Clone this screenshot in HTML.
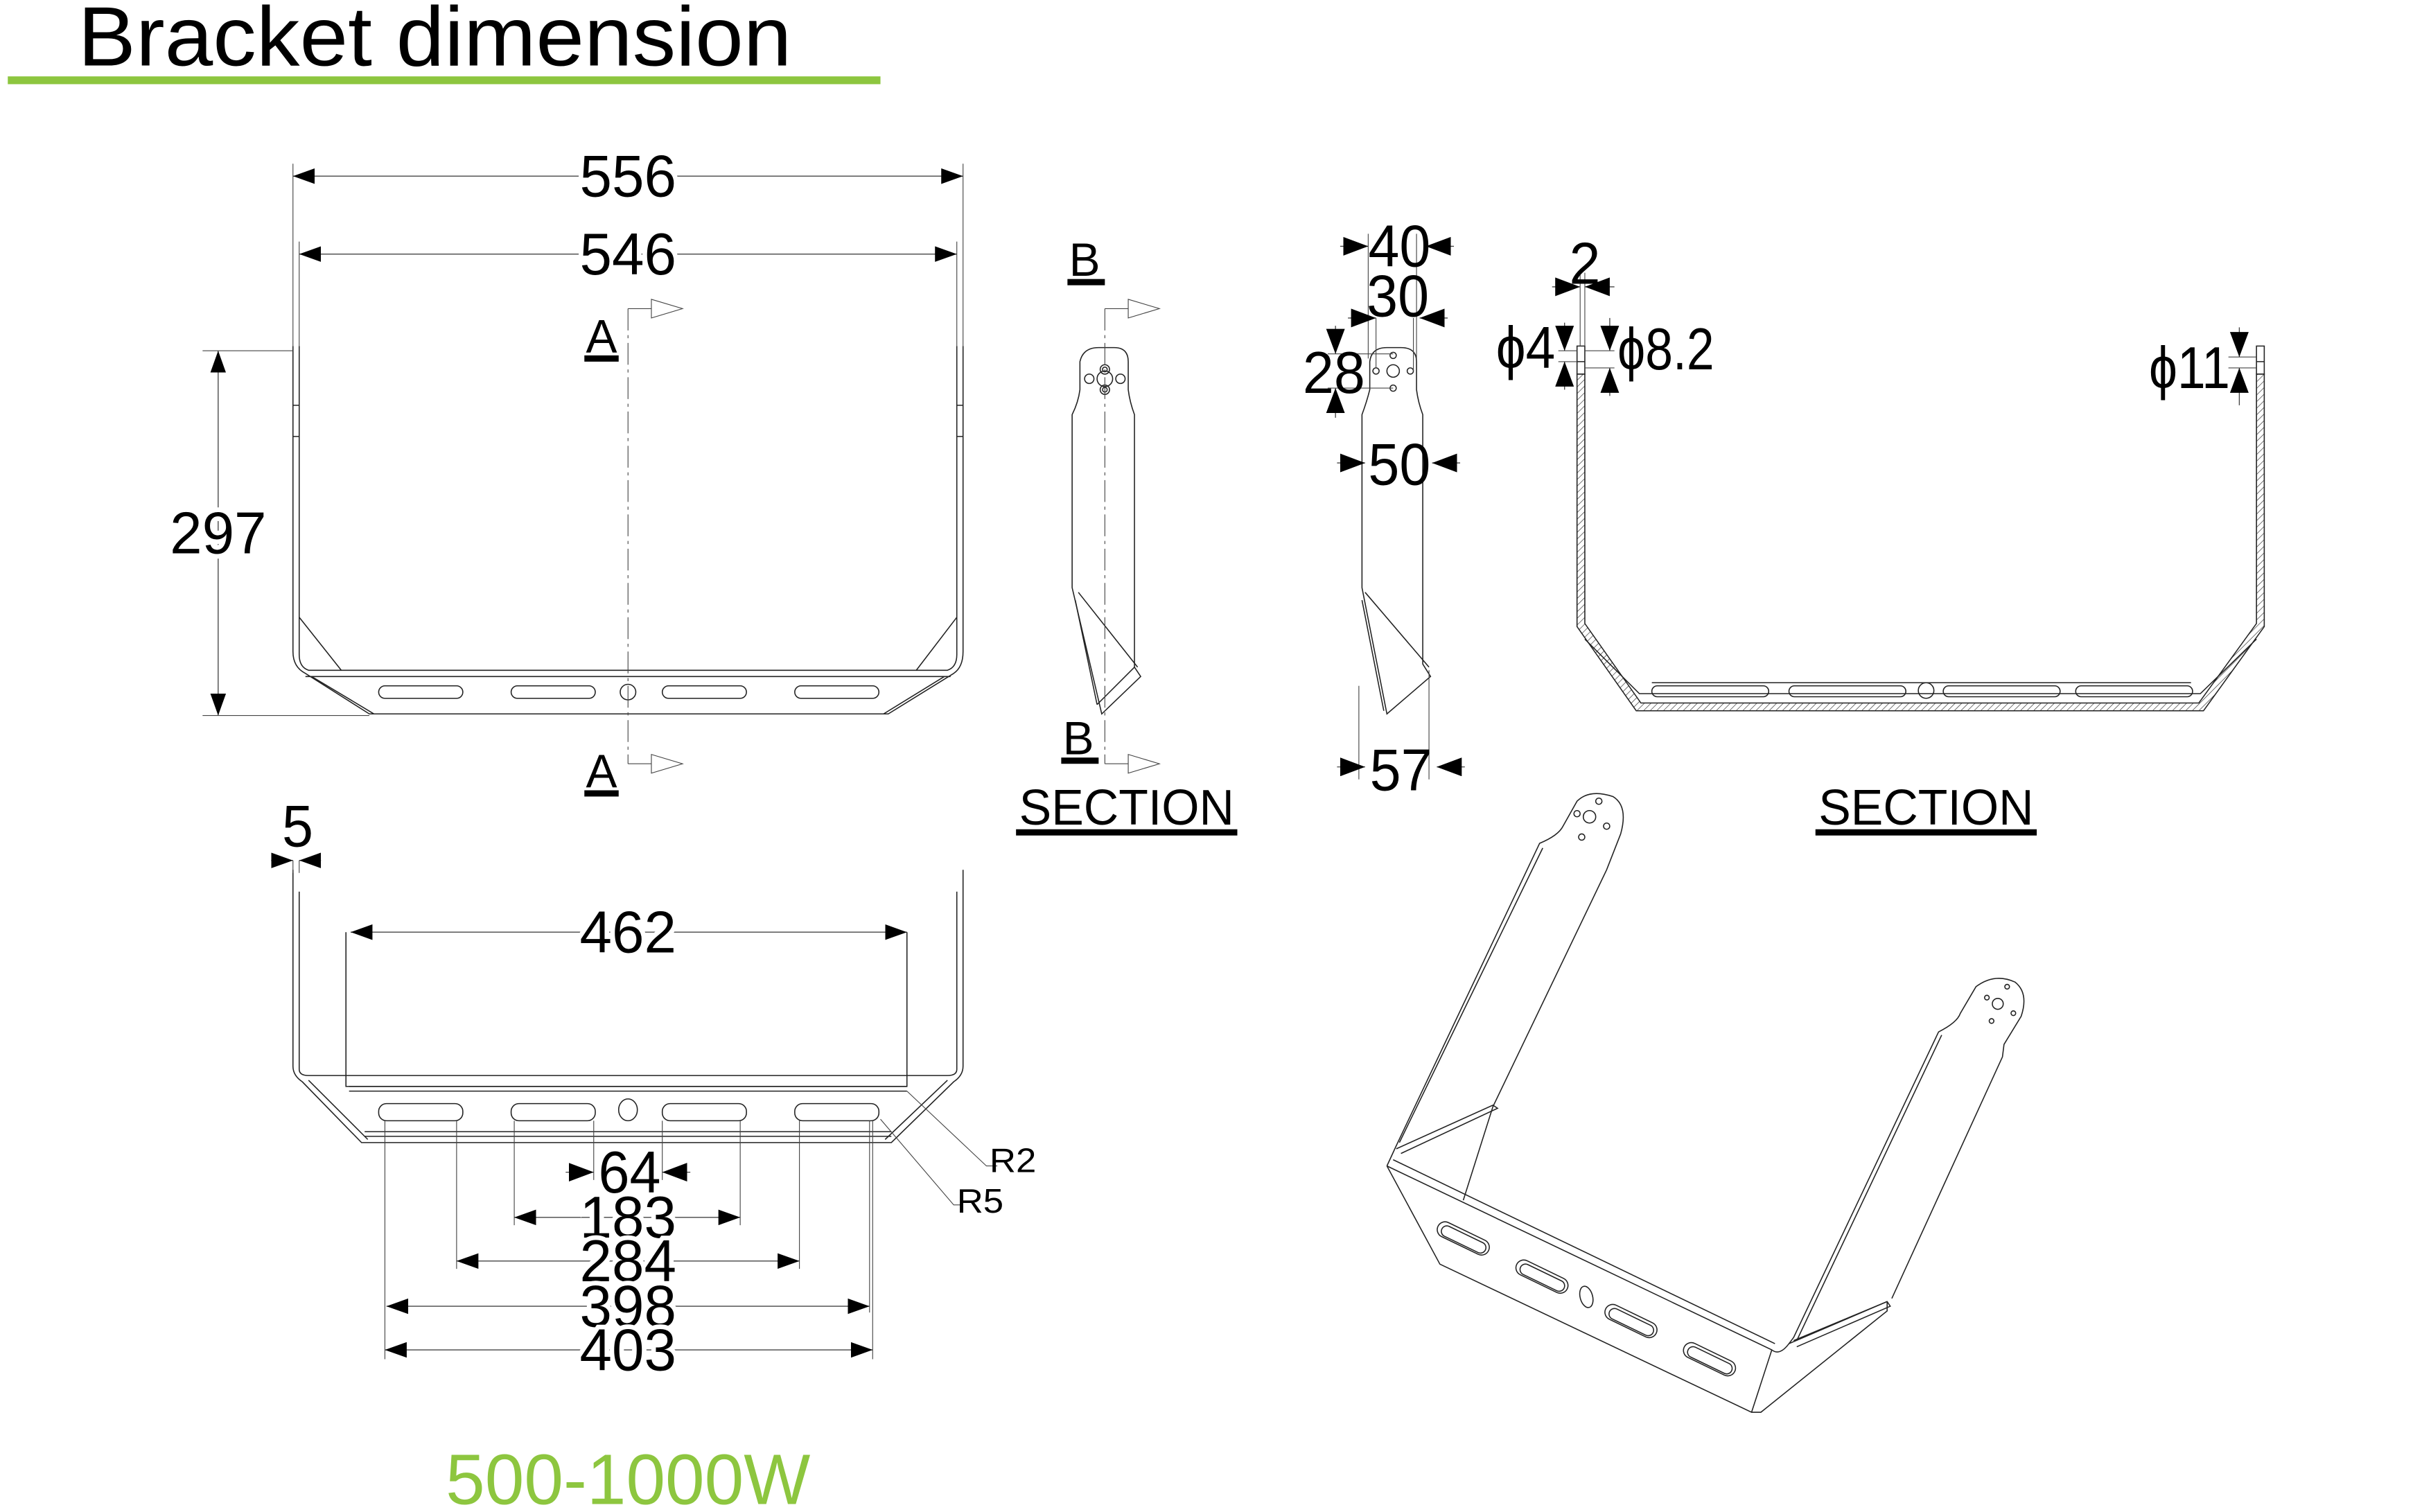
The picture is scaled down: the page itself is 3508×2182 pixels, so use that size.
<!DOCTYPE html>
<html><head><meta charset="utf-8"><style>
html,body{margin:0;padding:0;background:#fff;width:3508px;height:2182px;overflow:hidden}
svg{display:block}
.l{fill:none;stroke:#222;stroke-width:0.7}
.e{fill:none;stroke:#444;stroke-width:0.5}
.d{fill:none;stroke:#444;stroke-width:0.6}
.n{font-family:"Liberation Sans",sans-serif;font-size:38px;fill:#000;stroke:#fff;stroke-width:6px;paint-order:stroke;text-anchor:middle}
.m{font-family:"Liberation Sans",sans-serif;font-size:38px;fill:#000;text-anchor:middle}
.c{font-family:"Liberation Sans",sans-serif;fill:#000;font-weight:normal}
</style></head><body>
<svg width="3508" height="2182" viewBox="0 0 1560 970" preserveAspectRatio="none" xmlns="http://www.w3.org/2000/svg">
<defs>
<marker id="a" viewBox="-14 -5 14 10" refX="0" refY="0" markerWidth="14" markerHeight="10" markerUnits="userSpaceOnUse" orient="auto-start-reverse"><path d="M-14,-5 L0,0 L-14,5z" fill="#000"/></marker>
<marker id="b" viewBox="-16 -6 16 12" refX="0" refY="0" markerWidth="16" markerHeight="12" markerUnits="userSpaceOnUse" orient="auto-start-reverse"><path d="M-16,-6 L0,0 L-16,6z" fill="#000"/></marker>
<pattern id="h" width="3" height="3" patternUnits="userSpaceOnUse" patternTransform="rotate(45)"><line x1="0" y1="0" x2="0" y2="3" stroke="#333" stroke-width="0.6"/></pattern>
</defs>
<rect width="1560" height="970" fill="#fff"/>
<text x="50" y="42" class="c" font-size="54" textLength="458" lengthAdjust="spacingAndGlyphs">Bracket dimension</text>
<rect x="5" y="49" width="560" height="5" fill="#8dc63f"/>

<!-- FRONT VIEW -->
<g>
<path class="l" d="M188,222 V418 Q188,428 196,432 L237,458 L570,458 L612,432 Q618,428 618,418 V222"/>
<path class="l" d="M192,222 V420 Q192,428 198,430 H608 Q614,428 614,420 V222"/>
<path class="l" d="M196,434 H610"/>
<path class="l" d="M200,434 L240,458 M606,434 L567,458"/>
<path class="l" d="M192,396 L219,430 M614,396 L588,430"/>
<path class="l" d="M188,260 h4 M188,280 h4 M614,260 h4 M614,280 h4"/>
<g class="l">
<rect x="243" y="440" width="54" height="8" rx="4"/><rect x="328" y="440" width="54" height="8" rx="4"/>
<rect x="425" y="440" width="54" height="8" rx="4"/><rect x="510" y="440" width="54" height="8" rx="4"/>
<circle cx="403" cy="444" r="5"/>
</g>
<path class="e" d="M403,198 V490" stroke-dasharray="14,3,2,3"/>
<path class="e" d="M403,198 H418 M403,490 H418"/>
<path class="e" d="M418,192 L438,198 L418,204z M418,484 L438,490 L418,496z"/>
<text x="386" y="226" class="c" font-size="30" text-anchor="middle" font-family="Liberation Mono">A</text>
<rect x="375" y="228" width="22" height="4" fill="#000"/>
<text x="386" y="505" class="c" font-size="30" text-anchor="middle" font-family="Liberation Mono">A</text>
<rect x="375" y="507" width="22" height="4" fill="#000"/>
<path class="e" d="M188,105 V222 M618,105 V222 M192,155 V222 M614,155 V222"/>
<line class="d" x1="188" y1="113" x2="618" y2="113" marker-start="url(#a)" marker-end="url(#a)"/>
<text x="403" y="126" class="n" textLength="62" lengthAdjust="spacingAndGlyphs">556</text>
<line class="d" x1="192" y1="163" x2="614" y2="163" marker-start="url(#a)" marker-end="url(#a)"/>
<text x="403" y="176" class="n" textLength="62" lengthAdjust="spacingAndGlyphs">546</text>
<path class="e" d="M130,225 H188 M130,459 H237"/>
<line class="d" x1="140" y1="225" x2="140" y2="459" marker-start="url(#a)" marker-end="url(#a)"/>
<text x="140" y="355" class="n" textLength="62" lengthAdjust="spacingAndGlyphs">297</text>
</g>

<!-- BOTTOM VIEW -->
<g>
<path class="l" d="M188,558 V684 Q188,690 194,694 L232,733 L572,733 L612,694 Q618,690 618,684 V558"/>
<path class="l" d="M192,572 V686 Q192,690 198,690 H608 Q614,690 614,686 V572"/>
<path class="l" d="M198,693 L236,731 M608,693 L568,731"/>
<path class="l" d="M222,598 V697 H582 V598"/>
<path class="l" d="M224,700 H582 M224,697 h358"/>
<path class="l" d="M234,726 H572 M234,729 H572"/>
<g class="l">
<rect x="243" y="708" width="54" height="11" rx="5"/><rect x="328" y="708" width="54" height="11" rx="5"/>
<rect x="425" y="708" width="54" height="11" rx="5"/><rect x="510" y="708" width="54" height="11" rx="5"/>
<ellipse cx="403" cy="712" rx="6" ry="7"/>
</g>
<path class="e" d="M188,552 V560 M192,552 V560"/>
<line class="d" x1="174" y1="552" x2="188" y2="552" marker-end="url(#a)"/>
<line class="d" x1="206" y1="552" x2="192" y2="552" marker-end="url(#a)"/>
<text x="191" y="543" class="m" textLength="20" lengthAdjust="spacingAndGlyphs">5</text>
<line class="d" x1="225" y1="598" x2="582" y2="598" marker-start="url(#a)" marker-end="url(#a)"/>
<text x="403" y="611" class="n" textLength="62" lengthAdjust="spacingAndGlyphs">462</text>
<path class="e" d="M247,719 V872 M560,719 V872 M558,719 V842 M293,719 V814 M513,719 V814 M330,719 V786 M475,719 V786 M381,719 V757 M425,719 V757"/>
<line class="d" x1="363" y1="752" x2="381" y2="752" marker-end="url(#b)"/>
<line class="d" x1="443" y1="752" x2="425" y2="752" marker-end="url(#b)"/>
<text x="404" y="765" class="m" textLength="40" lengthAdjust="spacingAndGlyphs">64</text>
<line class="d" x1="330" y1="781" x2="475" y2="781" marker-start="url(#a)" marker-end="url(#a)"/>
<text x="403" y="794" class="n" textLength="62" lengthAdjust="spacingAndGlyphs">183</text>
<line class="d" x1="293" y1="809" x2="513" y2="809" marker-start="url(#a)" marker-end="url(#a)"/>
<text x="403" y="822" class="n" textLength="62" lengthAdjust="spacingAndGlyphs">284</text>
<line class="d" x1="248" y1="838" x2="558" y2="838" marker-start="url(#a)" marker-end="url(#a)"/>
<text x="403" y="851" class="n" textLength="62" lengthAdjust="spacingAndGlyphs">398</text>
<line class="d" x1="247" y1="866" x2="560" y2="866" marker-start="url(#a)" marker-end="url(#a)"/>
<text x="403" y="879" class="n" textLength="62" lengthAdjust="spacingAndGlyphs">403</text>
<path class="e" d="M582,700 L633,748 H640 M565,718 L612,773 H618"/>
<text x="650" y="752" class="c" font-size="22" text-anchor="middle" textLength="30" lengthAdjust="spacingAndGlyphs">R2</text>
<text x="629" y="778" class="c" font-size="22" text-anchor="middle" textLength="30" lengthAdjust="spacingAndGlyphs">R5</text>
</g>

<text x="403" y="965" class="c" font-size="46" style="fill:#8dc63f" text-anchor="middle" textLength="234" lengthAdjust="spacingAndGlyphs">500-1000W</text>

<!-- SECTION B-B -->
<g>
<path class="l" d="M688,377 V266 Q692,258 693,250 V232 Q695,223 705,223 H715 Q724,223 724,232 V250 Q725,258 728,266 V428 L732,434 L707,458 Z"/>
<path class="l" d="M692,380 L730,428 M690,385 L704,452"/>
<path class="l" d="M704,452 L728,428" stroke-width="2"/>
<g class="l"><circle cx="709" cy="237" r="3"/><circle cx="709" cy="250" r="3"/><circle cx="699" cy="243" r="3"/><circle cx="719" cy="243" r="3"/><circle cx="709" cy="243" r="5"/><circle cx="709" cy="237" r="1.5"/><circle cx="709" cy="250" r="1.5"/></g>
<path class="e" d="M709,198 V490" stroke-dasharray="14,3,2,3"/>
<path class="e" d="M709,198 H724 M709,490 H724"/>
<path class="e" d="M724,192 L744,198 L724,204z M724,484 L744,490 L724,496z"/>
<text x="696" y="177" class="c" font-size="30" text-anchor="middle" font-family="Liberation Mono">B</text>
<rect x="685" y="179" width="24" height="4" fill="#000"/>
<text x="692" y="484" class="c" font-size="30" text-anchor="middle" font-family="Liberation Mono">B</text>
<rect x="681" y="486" width="24" height="4" fill="#000"/>
<text x="723" y="529" class="c" font-size="32" text-anchor="middle" textLength="138" lengthAdjust="spacingAndGlyphs" font-family="Liberation Mono">SECTION</text>
<rect x="652" y="532" width="142" height="4" fill="#000"/>
</g>

<!-- SIDE VIEW -->
<g>
<path class="l" d="M874,377 V266 Q877,258 879,250 V232 Q880,223 890,223 H899 Q909,223 909,232 V250 Q910,258 913,266 V426 L918,434 L890,458 Z"/>
<path class="l" d="M876,380 L917,428 M874,385 L888,456"/>
<g class="l"><circle cx="894" cy="228" r="2"/><circle cx="894" cy="249" r="2"/><circle cx="883" cy="238" r="2"/><circle cx="905" cy="238" r="2"/><circle cx="894" cy="238" r="4"/></g>
<path class="e" d="M878,150 V230 M909,150 V230 M883,204 V236 M907,204 V238 M872,440 V500 M917,430 V500"/>
<line class="d" x1="860" y1="158" x2="878" y2="158" marker-end="url(#b)"/>
<line class="d" x1="933" y1="158" x2="915" y2="158" marker-end="url(#b)"/>
<text x="898" y="171" class="m" textLength="40" lengthAdjust="spacingAndGlyphs">40</text>
<line class="d" x1="865" y1="204" x2="883" y2="204" marker-end="url(#b)"/>
<line class="d" x1="929" y1="204" x2="911" y2="204" marker-end="url(#b)"/>
<text x="897" y="203" class="m" textLength="40" lengthAdjust="spacingAndGlyphs">30</text>
<path class="e" d="M852,227 H894 M852,249 H894"/>
<line class="d" x1="857" y1="209" x2="857" y2="227" marker-end="url(#b)"/>
<line class="d" x1="857" y1="268" x2="857" y2="249" marker-end="url(#b)"/>
<text x="856" y="252" class="m" textLength="40" lengthAdjust="spacingAndGlyphs">28</text>
<line class="d" x1="858" y1="297" x2="876" y2="297" marker-end="url(#b)"/>
<line class="d" x1="937" y1="297" x2="919" y2="297" marker-end="url(#b)"/>
<text x="898" y="311" class="m" textLength="40" lengthAdjust="spacingAndGlyphs">50</text>
<line class="d" x1="858" y1="492" x2="876" y2="492" marker-end="url(#b)"/>
<line class="d" x1="940" y1="492" x2="922" y2="492" marker-end="url(#b)"/>
<text x="899" y="507" class="m" textLength="40" lengthAdjust="spacingAndGlyphs">57</text>
</g>

<!-- SECTION U -->
<g>
<path d="M1012,240 V402 L1050,456 H1414 L1453,402 V240 H1448 V400 L1411,451 H1053 L1017,400 V240 Z" fill="url(#h)" stroke="#222" stroke-width="0.7"/>
<path class="l" d="M1012,222 V240 H1017 V222 Z M1448,222 V240 H1453 V222 Z"/>
<path class="l" d="M1012,232 h5 M1448,232 h5"/>
<path class="l" d="M1017,410 L1052,445 H1412 L1448,410"/>
<path class="l" d="M1060,438 H1406"/>
<g class="l">
<rect x="1060" y="440" width="75" height="7" rx="3.5"/><rect x="1148" y="440" width="75" height="7" rx="3.5"/>
<rect x="1247" y="440" width="75" height="7" rx="3.5"/><rect x="1332" y="440" width="75" height="7" rx="3.5"/>
<circle cx="1236" cy="443" r="5"/>
</g>
<path class="e" d="M1014,175 V222 M1017,175 V222 M1000,225 H1012 M1000,232 H1012 M1017,225 H1036 M1017,236 H1036 M1430,229 H1448 M1430,236 H1448"/>
<line class="d" x1="996" y1="184" x2="1014" y2="184" marker-end="url(#b)"/>
<line class="d" x1="1036" y1="184" x2="1017" y2="184" marker-end="url(#b)"/>
<text x="1017" y="182" class="m" textLength="20" lengthAdjust="spacingAndGlyphs">2</text>
<line class="d" x1="1004" y1="207" x2="1004" y2="225" marker-end="url(#b)"/>
<line class="d" x1="1004" y1="250" x2="1004" y2="232" marker-end="url(#b)"/>
<line class="d" x1="1033" y1="204" x2="1033" y2="225" marker-end="url(#b)"/>
<line class="d" x1="1033" y1="254" x2="1033" y2="236" marker-end="url(#b)"/>
<text x="979" y="236" class="m" textLength="38" lengthAdjust="spacingAndGlyphs">ϕ4</text>
<text x="1069" y="237" class="m" textLength="62" lengthAdjust="spacingAndGlyphs">ϕ8.2</text>
<line class="d" x1="1437" y1="210" x2="1437" y2="229" marker-end="url(#b)"/>
<line class="d" x1="1437" y1="260" x2="1437" y2="236" marker-end="url(#b)"/>
<text x="1405" y="249" class="m" textLength="52" lengthAdjust="spacingAndGlyphs">ϕ11</text>
<text x="1236" y="529" class="c" font-size="32" text-anchor="middle" textLength="138" lengthAdjust="spacingAndGlyphs" font-family="Liberation Mono">SECTION</text>
<rect x="1165" y="532" width="142" height="4" fill="#000"/>
</g>

<!-- ISO VIEW -->
<g class="l">
<path d="M890,748 L924,811 L1124,906 L1130,906 L1211,841 L1211,835"/>
<path d="M890,748 L1137,866 Q1142,870 1148,862 L1211,835"/>
<path d="M894,744 L1139,862"/>
<path d="M1137,866 L1124,906"/>
<path d="M890,748 L896,735 L988,541 Q1000,536 1003,530 L1012,514 Q1020,506 1035,511 Q1045,517 1040,535 L1031,558 L958,710 L939,770"/>
<path d="M898,733 L990,544"/>
<path d="M896,737 L958,709 L961,711 L899,740"/>
<path d="M1148,862 L1151,858 L1244,662 Q1256,656 1258,650 L1268,633 Q1280,624 1293,630 Q1302,637 1297,652 L1286,670 L1285,678 L1214,833"/>
<path d="M1153,860 L1246,664"/>
<path d="M1151,860 L1211,835 L1213,838 L1153,864"/>
<g transform="rotate(25.8 939 794.5)"><rect x="921" y="789.5" width="36" height="10" rx="5"/><rect x="924" y="791.5" width="31" height="7" rx="3.5"/></g>
<g transform="rotate(25.8 989.5 819)"><rect x="971.5" y="814" width="36" height="10" rx="5"/><rect x="974.5" y="816" width="31" height="7" rx="3.5"/></g>
<g transform="rotate(25.8 1046.6 847.5)"><rect x="1028.6" y="842.5" width="36" height="10" rx="5"/><rect x="1031.6" y="844.5" width="31" height="7" rx="3.5"/></g>
<g transform="rotate(25.8 1097 872)"><rect x="1079" y="867" width="36" height="10" rx="5"/><rect x="1082" y="869" width="31" height="7" rx="3.5"/></g>
<ellipse cx="1018" cy="832" rx="4" ry="7" transform="rotate(-15 1018 832)"/>
<circle cx="1020" cy="524" r="4"/><circle cx="1012" cy="522" r="2"/><circle cx="1026" cy="514" r="2"/><circle cx="1031" cy="530" r="2"/><circle cx="1015" cy="537" r="2"/>
<circle cx="1282" cy="644" r="3.5"/><circle cx="1275" cy="640" r="1.5"/><circle cx="1288" cy="633" r="1.5"/><circle cx="1292" cy="650" r="1.5"/><circle cx="1278" cy="655" r="1.5"/>
</g>
</svg>
</body></html>
